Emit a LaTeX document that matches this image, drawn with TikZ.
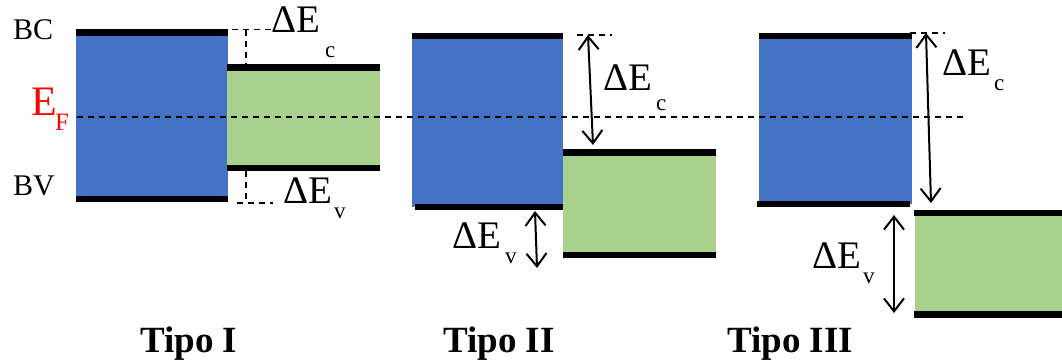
\documentclass[tikz,border=0pt]{standalone}
\usepackage{fontspec}
\setmainfont{Liberation Serif}
\usetikzlibrary{arrows.meta}
\definecolor{cbblue}{HTML}{4472C4}
\definecolor{vbgreen}{HTML}{A9D18E}
\definecolor{efred}{HTML}{FF0000}
\begin{document}
\begin{tikzpicture}[x=1pt,y=-1pt,
  bandA/.style={fill=cbblue},
  bandB/.style={fill=vbgreen},
  edgebar/.style={line width=6.5pt},
  guide/.style={line width=1.2pt, dash pattern=on 6pt off 5pt},
  gaparrow/.style={line width=2pt,
    {Straight Barb[length=13pt,width=20pt,line width=2pt]}-{Straight Barb[length=13pt,width=20pt,line width=2pt]}},
  big/.style={font=\fontsize{39}{41}\selectfont, inner sep=0pt, anchor=base west},
  small/.style={font=\fontsize{23}{25}\selectfont, inner sep=0pt, anchor=base west},
  level/.style={font=\fontsize{30}{32}\selectfont, inner sep=0pt, anchor=base west},
  title/.style={font=\bfseries\fontsize{37}{40}\selectfont, inner sep=0pt, anchor=base west},
]
\useasboundingbox (0,0) rectangle (1062,362);

% ---------- Tipo I ----------
\fill[bandA] (76,33) rectangle (228,199);
\fill[bandB] (227,67) rectangle (380,168);
\draw[edgebar] (76,32.5) -- (228,32.5);
\draw[edgebar] (76,199) -- (228,199);
\draw[edgebar] (227,67.5) -- (380,67.5);
\draw[edgebar] (227,168) -- (380,168);
\draw[guide] (232,29.5) -- (272,29.5);
\draw[guide] (246,29.5) -- (246,64);
\draw[guide] (246,171) -- (246,203);
\draw[guide] (237,203) -- (273,203);

% ---------- Tipo II ----------
\fill[bandA] (412,36) rectangle (563,207);
\fill[bandB] (563,152) rectangle (716,255);
\draw[edgebar] (412,36) -- (563,36);
\draw[edgebar] (415,207) -- (563,207);
\draw[edgebar] (563,152.5) -- (716,152.5);
\draw[edgebar] (563,255) -- (716,255);
\draw[guide] (577,35) -- (612,35);

% ---------- Tipo III ----------
\fill[bandA] (759,36) rectangle (912,204);
\fill[bandB] (915,213) rectangle (1062,314.5);
\draw[edgebar] (759,36) -- (912,36);
\draw[edgebar] (757,204) -- (910,204);
\draw[edgebar] (914,213) -- (1062,213);
\draw[edgebar] (914,314.5) -- (1062,314.5);
\draw[guide] (910,33) -- (945,33);

% ---------- Fermi level ----------
\coordinate (efL) at (77,117);
\coordinate (efR) at (963,117);
\draw[guide] (efL) -- (efR);

% ---------- band offsets ----------
\coordinate (c2t) at (588,35);
\coordinate (c2b) at (593,145);
\coordinate (v2t) at (535,211);
\coordinate (v2b) at (537,268);
\coordinate (c3t) at (926,33);
\coordinate (c3b) at (931,203);
\coordinate (v3t) at (894,215);
\coordinate (v3b) at (894,313);
\draw[gaparrow] (c2t) -- (c2b);
\draw[gaparrow] (v2t) -- (v2b);
\draw[gaparrow] (c3t) -- (c3b);
\draw[gaparrow] (v3t) -- (v3b);

% ---------- labels ----------
\node[level] (bc) at (13,39) {BC};
\node[level] (bv) at (13,195) {BV};
\node[big, text=efred, font=\fontsize{42}{44}\selectfont] (ef) at (31,115) {E};
\node[small, text=efred, font=\fontsize{25}{27}\selectfont] (efs) at (55,130) {F};

\node[big] (dc1) at (271,32) {ΔE};
\node[small] (dc1s) at (325,57) {c};
\node[big] (dv1) at (283,203) {ΔE};
\node[small] (dv1s) at (334,218) {v};

\node[big] (dc2) at (603,90) {ΔE};
\node[small] (dc2s) at (656,110) {c};
\node[big] (dv2) at (452,248) {ΔE};
\node[small] (dv2s) at (505,263) {v};

\node[big] (dc3) at (942,75) {ΔE};
\node[small] (dc3s) at (994,90) {c};
\node[big] (dv3) at (812,268) {ΔE};
\node[small] (dv3s) at (863,283) {v};

\node[title] (t1) at (140,352) {Tipo I};
\node[title] (t2) at (443,352) {Tipo II};
\node[title] (t3) at (727,352) {Tipo III};
\end{tikzpicture}
\end{document}
